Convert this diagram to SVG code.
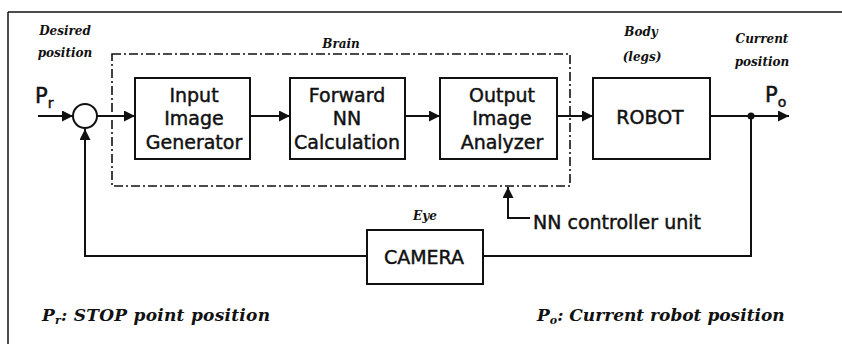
<svg xmlns="http://www.w3.org/2000/svg" width="842" height="344" viewBox="0 0 842 344">
<style>
.box{fill:#fff;stroke:#111;stroke-width:2}
.ln{fill:none;stroke:#111;stroke-width:2}
.lbl{font-family:"DejaVu Sans",sans-serif;font-size:19px;fill:#111;stroke:#111;stroke-width:0.45;text-anchor:middle}
.it{font-family:"DejaVu Serif",serif;font-style:italic;font-weight:bold;font-size:12px;fill:#111;text-anchor:middle}
.big{font-family:"DejaVu Serif",serif;font-style:italic;font-weight:bold;font-size:17px;fill:#111}
.sym{font-family:"DejaVu Sans",sans-serif;font-size:21px;fill:#111;stroke:#111;stroke-width:0.5}
</style>
<defs>
<marker id="ah" markerUnits="userSpaceOnUse" markerWidth="12" markerHeight="11" refX="11" refY="5.5" orient="auto">
<path d="M0,0 L11,5.5 L0,11 z" fill="#111"/>
</marker>
</defs>
<g id="frame">
<line x1="8" y1="12" x2="842" y2="12" stroke="#111" stroke-width="1.5"/>
<line x1="8" y1="12" x2="8" y2="344" stroke="#111" stroke-width="1.5"/>
</g>
<g id="brain">
<rect x="112" y="54" width="458" height="132" fill="none" stroke="#111" stroke-width="1.6" stroke-dasharray="9 3 2 3"/>
<text class="it" x="341" y="48">Brain</text>
</g>
<g id="connectors">
<line class="ln" x1="38" y1="116" x2="73" y2="116" marker-end="url(#ah)"/>
<line class="ln" x1="97" y1="116" x2="135" y2="116" marker-end="url(#ah)"/>
<line class="ln" x1="250" y1="116" x2="290" y2="116" marker-end="url(#ah)"/>
<line class="ln" x1="405" y1="116" x2="440" y2="116" marker-end="url(#ah)"/>
<line class="ln" x1="557" y1="116" x2="593" y2="116" marker-end="url(#ah)"/>
<line class="ln" x1="710" y1="116" x2="789" y2="116" marker-end="url(#ah)"/>
<circle cx="751" cy="116" r="3.5" fill="#111"/>
<polyline class="ln" points="751,116 751,256 85,256 85,129" marker-end="url(#ah)"/>
<polyline class="ln" points="530,218 508,218 508,187" marker-end="url(#ah)"/>
</g>
<g id="sum">
<circle cx="85" cy="116" r="12" fill="#fff" stroke="#111" stroke-width="2"/>
</g>
<g id="input-image-generator">
<rect class="box" x="135" y="78" width="115" height="81"/>
<text class="lbl" x="194" y="102">Input</text>
<text class="lbl" x="194" y="125">Image</text>
<text class="lbl" x="194" y="149">Generator</text>
</g>
<g id="forward-nn">
<rect class="box" x="290" y="78" width="115" height="81"/>
<text class="lbl" x="347" y="102">Forward</text>
<text class="lbl" x="347" y="125">NN</text>
<text class="lbl" x="347" y="149">Calculation</text>
</g>
<g id="output-image-analyzer">
<rect class="box" x="440" y="78" width="117" height="81"/>
<text class="lbl" x="502" y="102">Output</text>
<text class="lbl" x="502" y="125">Image</text>
<text class="lbl" x="502" y="149">Analyzer</text>
</g>
<g id="robot">
<rect class="box" x="593" y="78" width="117" height="81"/>
<text class="lbl" x="650" y="124">ROBOT</text>
<text class="it" x="641" y="36">Body</text>
<text class="it" x="642" y="61">(legs)</text>
</g>
<g id="camera">
<rect class="box" x="367" y="230" width="116" height="54"/>
<text class="lbl" x="424" y="264">CAMERA</text>
<text class="it" x="425" y="220">Eye</text>
</g>
<g id="labels">
<text class="it" x="65" y="35">Desired</text>
<text class="it" x="65" y="57">position</text>
<text class="it" x="762" y="43">Current</text>
<text class="it" x="762" y="66">position</text>
<text class="sym" x="35" y="103">P<tspan font-size="14" dy="5">r</tspan></text>
<text class="sym" x="765" y="102">P<tspan font-size="14" dy="5">o</tspan></text>
<text class="lbl" x="533" y="229" style="text-anchor:start">NN controller unit</text>
<text class="big" x="42" y="321" textLength="228">P<tspan font-size="11" dy="3">r</tspan><tspan dy="-3">: STOP point position</tspan></text>
<text class="big" x="537" y="321">P<tspan font-size="11" dy="3">o</tspan><tspan dy="-3">: Current robot position</tspan></text>
</g>
</svg>
